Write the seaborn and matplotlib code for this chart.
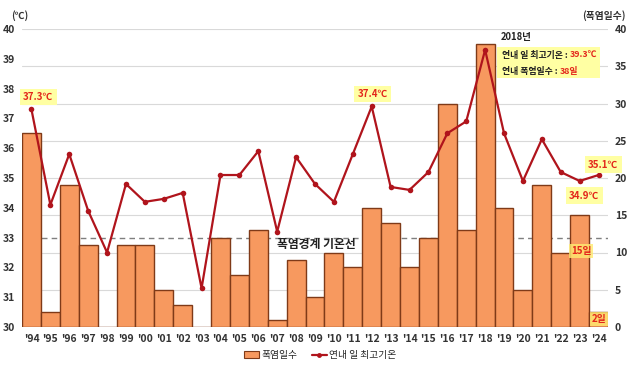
import numpy as np
import matplotlib
matplotlib.use("Agg")
import matplotlib.pyplot as plt
from matplotlib.patches import Patch, Rectangle
from matplotlib.lines import Line2D
import seaborn as sns

# data
years = list(range(1994, 2025))
year_labels = ["'%02d" % (y % 100) for y in years]
heat_days = [26, 2, 19, 11, 0, 11, 11, 5, 3, 0, 12, 7, 13, 1, 9, 4, 10, 8, 16, 14,
             8, 12, 30, 13, 38, 16, 5, 19, 10, 15, 2]
max_temp = [37.3, 34.1, 35.8, 33.9, 32.5, 34.8, 34.2, 34.3, 34.5, 31.3, 35.1, 35.1,
            35.9, 33.2, 35.7, 34.8, 34.2, 35.8, 37.4, 34.7, 34.6, 35.2, 36.5, 36.9,
            39.3, 36.5, 34.9, 36.3, 35.2, 34.9, 35.1]
threshold_temp = 33

sns.set_theme(style="white")
plt.rcParams['font.family'] = ['Noto Sans CJK KR', 'DejaVu Sans']

bar_color = '#F7995F'
bar_edge = '#7F3A18'
line_color = '#B0141C'
red_txt = '#E3261B'
box_yellow = '#FFFFA3'
tick_color = '#333333'

fig = plt.figure(figsize=(6.3, 3.71), dpi=100)
ax = fig.add_axes([22 / 630, 1 - 327 / 371, 586 / 630, 298 / 371])

# bars: heat wave days (right axis)
sns.barplot(x=year_labels, y=heat_days, ax=ax, width=1.0, color=bar_color,
            saturation=1, edgecolor=bar_edge, linewidth=1.0)
ax.set_xlim(-0.5, len(years) - 0.5)
ax.set_ylim(0, 40)
ax.set_yticks(range(0, 41, 5))
ax.grid(axis='y', color='#D9D9D9', lw=0.8)
ax.set_axisbelow(True)
# threshold line converted to day scale (30..40 -> 0..40)
ax.axhline((threshold_temp - 30) * 4, ls=(0, (4, 3)), color='#7F7F7F', lw=1, zorder=0.8)

# line: yearly max temperature (left axis)
ax2 = ax.twinx()
sns.lineplot(x=np.arange(len(years)), y=max_temp, ax=ax2, color=line_color, lw=1.6,
             marker='o', markersize=4, markeredgewidth=0, zorder=3)
ax2.set_ylim(30, 40)
ax2.set_yticks(range(30, 41))
ax2.grid(False)
ax2.yaxis.tick_left()
ax.yaxis.tick_right()

for a in (ax, ax2):
    for s in a.spines.values():
        s.set_visible(False)
    a.set_xlabel('')
    a.set_ylabel('')
    a.tick_params(length=0, labelsize=7.5, labelcolor=tick_color, pad=5)
    for lab in a.get_xticklabels() + a.get_yticklabels():
        lab.set_fontweight('bold')

# threshold label
ax2.text(15.05, 32.78, '폭염경계 기온선', ha='center', va='center', fontsize=8.5,
         fontweight='bold', color='#222222')

# yellow value tags
def tag(axis, x, y, s):
    axis.text(x, y, s, ha='center', va='center', fontsize=7, fontweight='bold',
              color=red_txt, zorder=5,
              bbox=dict(boxstyle='square,pad=0.35', fc=box_yellow, ec='none'))

tag(ax2, 0.35, 37.72, '37.3℃')
tag(ax2, 18.05, 37.82, '37.4℃')
tag(ax2, 30.24, 35.44, '35.1℃')
tag(ax2, 29.24, 34.4, '34.9℃')
ax2.text(29.08, 32.55, '15일', ha='center', va='center', fontsize=7, fontweight='bold',
         color=red_txt, zorder=5,
         bbox=dict(boxstyle='square,pad=0.2', fc='#FFEA70', ec='none', alpha=0.8))
ax2.text(30.03, 30.27, '2일', ha='center', va='center', fontsize=7, fontweight='bold',
         color=red_txt, zorder=5,
         bbox=dict(boxstyle='square,pad=0.2', fc='#FFEA70', ec='none', alpha=0.8))

# 2018 box
ax2.add_patch(Rectangle((24.62, 38.35), 5.46, 1.06, fc=box_yellow, ec='none', zorder=4))
ax2.text(24.84, 39.74, '2018년', ha='left', va='center', fontsize=6.8, fontweight='bold',
         color='#222222', zorder=5)
t1 = ax2.text(24.91, 39.10, '연내 일 최고기온 : ', ha='left', va='center', fontsize=6.4,
              fontweight='bold', color='#222222', zorder=5)
ax2.annotate('39.3℃', xy=(1, 0), xycoords=t1, ha='left', va='bottom', fontsize=6.4,
             fontweight='bold', color=red_txt, zorder=5)
t2 = ax2.text(24.91, 38.59, '연내 폭염일수 : ', ha='left', va='center', fontsize=6.4,
              fontweight='bold', color='#222222', zorder=5)
ax2.annotate('38일', xy=(1, 0), xycoords=t2, ha='left', va='bottom', fontsize=6.4,
             fontweight='bold', color=red_txt, zorder=5)

# axis unit labels
fig.text(20 / 630, 1 - 16 / 371, '(℃)', ha='center', va='center', fontsize=7,
         fontweight='bold', color=tick_color)
fig.text(626 / 630, 1 - 16 / 371, '(폭염일수)', ha='right', va='center', fontsize=7,
         fontweight='bold', color=tick_color)

handles = [Patch(fc=bar_color, ec=bar_edge, lw=0.8),
           Line2D([], [], color=line_color, lw=1.6, marker='o', markersize=3.5, markeredgewidth=0)]
fig.legend(handles, ['폭염일수', '연내 일 최고기온'], loc='center',
           bbox_to_anchor=(320 / 630, 1 - 355 / 371), ncol=2, frameon=False,
           fontsize=7, handlelength=1.6, handleheight=0.6, columnspacing=1.5,
           handletextpad=0.2)

fig.savefig('out.png', dpi=100)
